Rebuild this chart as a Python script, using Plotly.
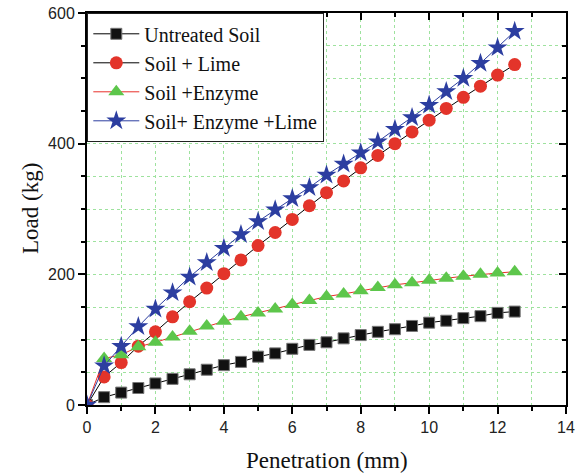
import plotly.graph_objects as go

penetration = [0, 0.5, 1, 1.5, 2, 2.5, 3, 3.5, 4, 4.5, 5, 5.5, 6, 6.5, 7, 7.5, 8, 8.5, 9, 9.5, 10, 10.5, 11, 11.5, 12, 12.5]
untreated = [0, 12, 19, 26, 33, 40, 47, 54, 61, 66, 74, 79, 86, 92, 96, 102, 107, 112, 116, 121, 126, 129, 133, 136, 141, 143]
soil_lime = [0, 43, 65, 90, 112, 135, 158, 179, 201, 222, 244, 264, 284, 305, 325, 343, 363, 382, 400, 418, 436, 454, 471, 488, 505, 521]
soil_enzyme = [0, 71, 77, 89, 96, 104, 113, 121, 128, 135, 141, 147, 154, 160, 166, 170, 175, 180, 184, 187, 191, 194, 197, 200, 202, 204]
soil_enzyme_lime = [0, 60, 90, 120, 147, 172, 196, 218, 240, 261, 281, 299, 316, 333, 352, 369, 386, 403, 422, 440, 459, 480, 500, 523, 547, 572]

names = ["Untreated Soil", "Soil + Lime", "Soil +Enzyme", "Soil+ Enzyme +Lime"]
x_title = "Penetration (mm)"
y_title = "Load (kg)"

SERIF = "Liberation Serif"
SANS = "Liberation Sans"

fig = go.Figure()
fig.add_trace(go.Scatter(x=penetration, y=untreated, name=names[0], mode="lines+markers",
                         line=dict(color="black", width=1),
                         marker=dict(symbol="square", size=11, color="#111111", line=dict(color="#777777", width=1))))
fig.add_trace(go.Scatter(x=penetration, y=soil_lime, name=names[1], mode="lines+markers",
                         line=dict(color="black", width=1),
                         marker=dict(symbol="circle", size=13, color="#e3342a", line=dict(width=0))))
fig.add_trace(go.Scatter(x=penetration, y=soil_enzyme, name=names[2], mode="lines+markers",
                         line=dict(color="#e8302a", width=1),
                         marker=dict(symbol="triangle-up", size=14, color="#5dc64b", line=dict(width=0))))
fig.add_trace(go.Scatter(x=penetration, y=soil_enzyme_lime, name=names[3], mode="lines+markers",
                         line=dict(color="#2c3ea0", width=1),
                         marker=dict(symbol="star", size=15, color="#2c3ea0", line=dict(width=0))))
# dummy trace for mirrored top/right axes
fig.add_trace(go.Scatter(x=[None], y=[None], xaxis="x2", yaxis="y2", showlegend=False, hoverinfo="skip"))

GRIDC = "#9ee29e"
grid = dict(showgrid=True, gridcolor=GRIDC, griddash="dot", gridwidth=1)
tickfont = dict(family=SANS, size=16, color="#222222")

fig.update_layout(
    width=579, height=473,
    margin=dict(l=87, r=13, t=13, b=68, autoexpand=False),
    paper_bgcolor="white", plot_bgcolor="white",
    showlegend=True,
    legend=dict(x=0, y=1, xanchor="left", yanchor="top", bgcolor="white",
                bordercolor="#222222", borderwidth=1.3,
                font=dict(family=SERIF, size=20, color="#111111"),
                itemwidth=46, tracegroupgap=0),
    xaxis=dict(range=[0, 14], dtick=2, tick0=0, showline=True, linecolor="black", linewidth=2,
               ticks="outside", ticklen=7, tickwidth=1.5, tickcolor="black",
               tickfont=tickfont, zeroline=False, automargin=False,
               minor=dict(dtick=1, ticks="outside", ticklen=4, tickcolor="black", showgrid=True,
                          gridcolor=GRIDC, griddash="dot", gridwidth=1),
               **grid),
    yaxis=dict(range=[0, 600], dtick=200, tick0=0, showline=True, linecolor="black", linewidth=2,
               ticks="outside", ticklen=7, tickwidth=1.5, tickcolor="black",
               tickfont=tickfont, zeroline=False, automargin=False,
               minor=dict(dtick=50, ticks="outside", ticklen=4, tickcolor="black", showgrid=True,
                          gridcolor=GRIDC, griddash="dot", gridwidth=1),
               **grid),
    xaxis2=dict(range=[0, 14], dtick=2, overlaying="x", side="top", anchor="y2", showline=True, linecolor="black",
                linewidth=2, ticks="inside", ticklen=7, tickwidth=1.5, tickcolor="black", showticklabels=False,
                showgrid=False, zeroline=False, automargin=False,
                minor=dict(dtick=1, ticks="inside", ticklen=4, tickcolor="black")),
    yaxis2=dict(range=[0, 600], dtick=200, overlaying="y", side="right", anchor="x2", showline=True, linecolor="black",
                linewidth=2, ticks="inside", ticklen=7, tickwidth=1.5, tickcolor="black", showticklabels=False,
                showgrid=False, zeroline=False, automargin=False,
                minor=dict(dtick=50, ticks="inside", ticklen=4, tickcolor="black")),
    annotations=[
        dict(text=x_title, xref="paper", yref="paper", x=0.5, y=0, yshift=-55, xanchor="center", yanchor="middle",
             showarrow=False, font=dict(family=SERIF, size=23, color="#111111")),
        dict(text=y_title, xref="paper", yref="paper", x=0, y=0.5, xshift=-57, xanchor="center", yanchor="middle",
             textangle=-90, showarrow=False, font=dict(family=SERIF, size=23, color="#111111")),
    ],
)

fig.write_html("out.html", config={"displayModeBar": False},
               post_script="document.body.style.margin='0';document.body.style.overflow='hidden';")
